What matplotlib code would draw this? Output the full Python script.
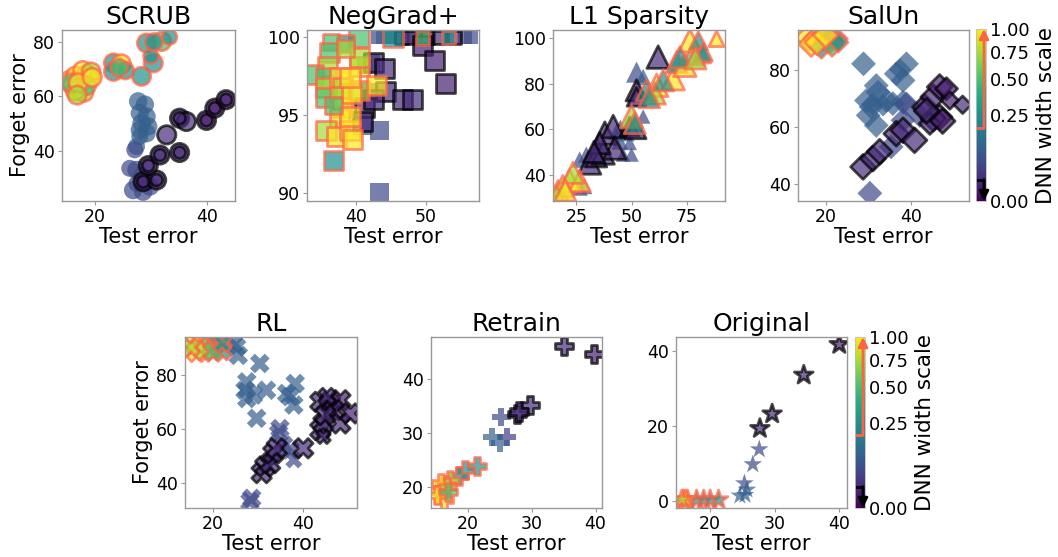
import numpy as np
import matplotlib
matplotlib.use("Agg")
import matplotlib.pyplot as plt
from matplotlib import colors as mcolors
from matplotlib.cm import ScalarMappable

# ---------------- data: (test error, forget error, DNN width scale, marker size) ----------------
Y, YG, G, T = 1.0, 0.75, 0.5, 0.25
B1, B2, B3 = 0.09, 0.05, 0.035
P1, P2 = 0.0156, 0.0078

scrub_test = [15.5, 16.5, 17.5, 18.5, 19.0, 16.0, 17.0, 18.0, 16.5, 17.8, 19.3, 15.7, 18.5, 17.0, 16.8, 19.5,
              23.3, 24.7, 23.3, 25.4, 24.3, 28.3, 29.2, 30.4, 30.0, 31.9, 33.3, 30.5,
              27.7, 28.9, 28.0, 29.2, 28.3, 29.5, 28.0, 29.2, 28.0, 27.4, 27.1, 27.4, 26.2, 28.3, 26.8, 28.6, 29.8, 27.5,
              28.6, 31.0, 29.5, 31.6, 32.8, 35.1, 35.1, 36.3, 39.9, 41.4, 43.4,
              28.6, 31.0, 29.5, 31.6, 35.1, 35.1, 39.9, 41.4, 43.4]
scrub_forget = [66.0, 67.5, 66.0, 68.0, 66.5, 64.0, 63.0, 61.5, 62.0, 69.5, 69.0, 65.0, 64.0, 65.0, 60.5, 67.0,
                72.3, 72.0, 69.2, 69.5, 70.5, 67.4, 79.6, 72.3, 74.8, 80.2, 81.8, 80.0,
                58.2, 57.0, 53.9, 52.6, 50.2, 49.0, 47.7, 46.5, 45.3, 41.6, 40.4, 33.0, 33.6, 30.6, 25.6, 25.0, 26.9, 28.0,
                28.7, 29.3, 34.6, 38.5, 45.9, 39.4, 52.0, 50.8, 51.2, 55.7, 58.8,
                28.7, 29.3, 34.6, 38.5, 39.4, 52.0, 51.2, 55.7, 58.8]
scrub_width = [Y, Y, Y, Y, Y, Y, YG, YG, Y, Y, YG, G, G, Y, YG, Y,
               T, Y, T, T, G, T, T, T, T, G, T, T,
               B1, B1, B1, B1, B1, B1, B1, B1, B1, B1, B2, B2, B2, B2, B2, B2, B2, B2,
               P1, P1, P1, P1, P1, P1, P1, P1, P2, P2, P2,
               P1, P1, P1, P1, P1, P1, P2, P2, P2]
scrub_size = [140] * 16 + [140, 140, 140, 120, 120, 140, 140, 140, 90, 140, 90, 120] + \
             [140] * 8 + [120, 120, 120, 140, 120, 140, 140, 140, 140, 120] + [140] * 11 + [60] * 9

neg_test = [43.2, 43.9, 44.9, 45.3, 45.8, 46.5, 47.6, 48.6, 49.5, 50.2, 51.9, 53.2, 54.0, 55.5, 56.4, 49.5,
            40.5, 38.5, 36.5, 36.3, 36.0, 34.0, 35.8, 35.8, 35.8, 37.7, 38.2, 37.7, 38.2, 37.7, 35.8, 37.3, 39.2, 39.6,
            39.2, 40.6, 40.6, 39.4, 42.9, 40.6, 36.8, 38.6, 39.2, 36.8,
            42.3, 41.3, 41.0, 43.4, 43.4, 42.0,
            42.5, 44.1, 41.3, 41.0, 44.3, 46.7, 48.1, 49.5, 51.2, 52.8, 42.5]
neg_forget = [100.0, 100.0, 100.0, 100.0, 100.0, 100.0, 100.0, 100.0, 100.0, 100.0, 100.0, 100.0, 100.0, 100.0, 100.0, 99.95,
              100.0, 99.6, 99.7, 99.0, 98.1, 97.6, 97.4, 96.8, 96.1, 97.4, 96.8, 96.2, 95.5, 94.8, 94.0, 93.6, 94.0, 93.4,
              94.9, 98.1, 96.6, 96.4, 96.9, 98.7, 92.1, 99.3, 97.4, 95.6,
              98.4, 98.1, 94.3, 94.0, 90.0, 96.5,
              98.4, 98.0, 95.5, 94.6, 96.5, 96.0, 96.0, 99.5, 98.5, 97.0, 96.0]
neg_width = [B2, B1, B1, T, B1, P1, P1, B2, P1, P1, P1, T, P1, B2, B2, G,
             G, T, G, G, YG, G, G, YG, G, Y, YG, YG, Y, Y, YG, Y, Y, Y,
             Y, Y, YG, Y, Y, YG, T, YG, Y, G,
             B1, B1, B2, B2, B2, B1,
             P1, P1, P1, P1, P1, P1, P1, P2, P2, P2, P1]
neg_size = [70, 70, 70, 150, 70, 70, 70, 70, 70, 70, 70, 70, 70, 70, 70, 70,
            150, 110, 110, 140, 140, 140, 140, 140, 140, 140, 140, 140, 140, 140, 140, 140, 140, 140,
            140, 140, 140, 140, 140, 140, 140, 110, 140, 110,
            110, 90, 140, 140, 140, 110,
            140, 140, 140, 140, 140, 140, 140, 140, 140, 140, 140]

l1_test = [16.7, 22.0, 26.5, 18.9, 23.5, 15.9, 20.0, 50.0, 51.5, 56.8, 61.4, 60.6, 68.9, 64.4, 70.5, 74.2, 78.0,
           76.5, 80.3, 81.8, 72.0, 88.6, 82.6, 58.0, 79.0,
           29.5, 26.5, 34.8, 43.2, 44.7, 46.2, 50.0, 49.2, 55.3, 52.3, 55.3, 47.7, 26.5, 28.5, 45.0,
           31.0, 34.0, 37.1, 37.9, 41.7, 42.4, 35.6, 49.2, 51.8, 52.3, 52.3, 62.1, 33.0]
l1_forget = [32.8, 37.2, 37.2, 35.0, 40.8, 30.6, 33.0, 65.5, 62.6, 77.0, 79.2, 75.6, 82.1, 81.4, 89.4, 88.0, 93.0,
             98.8, 98.8, 93.0, 91.6, 99.6, 93.8, 74.0, 91.0,
             48.8, 46.6, 52.4, 58.9, 54.6, 48.8, 48.8, 53.9, 65.5, 85.0, 82.9, 58.2, 34.3, 35.0, 60.0,
             45.1, 48.0, 49.5, 58.2, 61.1, 51.7, 53.8, 61.1, 60.4, 77.0, 74.2, 91.6, 50.0]
l1_width = [Y, Y, Y, YG, YG, YG, Y, YG, T, T, Y, YG, Y, T, T, Y, G,
            Y, T, T, T, Y, T, T, YG,
            B2, B2, B2, B1, B2, B2, B2, B2, B2, B2, B1, B1, B2, B2, B1,
            P1, P1, P1, P1, P1, P1, P1, P2, P2, P1, P2, P1, P1]
l1_size = [150, 170, 150, 150, 150, 150, 150, 170, 150, 150, 170, 150, 170, 150, 150, 170, 170,
           170, 110, 110, 150, 80, 110, 150, 150,
           90, 90, 90, 90, 90, 70, 70, 70, 70, 150, 90, 90, 90, 90, 120,
           170, 150, 170, 170, 170, 170, 150, 120, 150, 150, 120, 170, 150]

sal_test = [15.8, 17.8, 19.4, 20.9, 22.5, 16.6, 19.0, 21.5, 18.0, 23.0, 20.0,
            28.9, 31.9, 32.3, 29.6, 30.7, 30.0, 31.9, 34.3, 35.8, 38.2, 36.6, 39.0, 38.2, 39.0, 38.2, 30.4,
            42.1, 35.4, 33.5, 37.5, 31.0,
            28.8, 31.1, 32.7, 36.6, 38.2, 40.9, 43.3, 45.3, 46.8, 48.4, 46.8, 45.3, 44.5, 49.2, 52.2, 43.7, 47.5]
sal_forget = [91.2, 90.7, 91.2, 90.1, 90.7, 88.9, 87.8, 88.5, 89.5, 89.5, 92.0,
              82.0, 74.4, 72.1, 69.2, 66.9, 64.0, 60.5, 69.2, 68.1, 68.6, 78.5, 82.0, 76.2, 68.0, 62.3, 36.8,
              64.0, 53.0, 67.5, 80.0, 68.0,
              46.0, 48.9, 51.3, 57.6, 58.8, 55.3, 66.9, 70.4, 73.9, 73.3, 63.4, 62.9, 61.1, 69.2, 67.7, 65.6, 62.0]
sal_width = [Y, Y, YG, T, T, Y, T, G, Y, T, Y,
             B1, B1, B1, B1, B1, B1, B1, B1, B1, B1, B1, B1, B1, B2, B2, B2,
             B2, B2, B1, B1, B1,
             P1, P1, P1, P1, P1, P1, P2, P1, P2, P2, P2, P1, P1, P2, P1, P1, P2]
sal_size = [200, 200, 200, 200, 160, 200, 160, 160, 200, 120, 200] + [200] * 16 + [200, 200, 160, 160, 160] + \
           [200, 200, 200, 200, 200, 200, 200, 200, 200, 160, 200, 200, 150, 100, 100, 200, 200]

rl_test = [15.9, 17.4, 19.3, 20.7, 21.9, 16.3, 18.0, 20.0, 22.0, 15.0,
           25.2, 25.6, 24.5, 30.4, 27.5, 27.1, 28.96, 27.5, 31.9, 29.7, 36.4, 38.3, 37.2, 38.0, 34.9, 34.6, 35.7,
           37.2, 38.0, 28.6, 28.2,
           30.8, 31.6, 32.7, 33.4, 34.2, 40.1, 43.9, 44.6, 43.9, 46.1, 48.4, 46.9, 48.4, 50.6, 45.4, 44.6, 45.0]
rl_forget = [91.4, 90.8, 90.2, 92.1, 89.0, 88.4, 89.0, 88.5, 91.5, 90.0,
             90.2, 87.1, 91.4, 84.1, 77.3, 74.2, 72.4, 71.1, 74.2, 63.8, 73.0, 76.7, 71.8, 68.7, 60.0, 58.2, 53.9,
             52.1, 48.4, 34.2, 33.0,
             43.5, 46.0, 47.2, 50.8, 52.7, 52.7, 59.5, 61.9, 69.9, 69.3, 70.5, 66.8, 61.9, 65.6, 71.8, 57.0, 65.0]
rl_width = [Y, Y, G, T, T, Y, YG, G, T, YG,
            B1, B1, B1, B1, B1, B1, B1, B1, B1, B1, B1, B1, B1, B1, B2, B2, B2,
            B2, B2, B2, B2,
            P1, P1, P1, P1, P1, P1, P1, P1, P1, P2, P2, P2, P1, P2, P1, P1, P1]
rl_size = [200] * 8 + [160, 160] + [200] * 18 + [150, 200, 200] + [200] * 14 + [150, 100, 200]

re_test = [35.0, 39.8, 29.7, 27.7, 28.0, 26.1, 25.3, 23.8, 25.1, 21.5, 19.6, 18.6, 17.3, 16.5, 15.5, 15.8,
           16.8, 16.3, 15.2, 17.0]
re_forget = [46.3, 44.8, 35.2, 33.5, 34.0, 29.2, 33.0, 29.2, 28.1, 23.8, 23.1, 21.9, 21.2, 20.3, 19.1, 20.6,
             20.0, 17.5, 18.5, 19.0]
re_width = [P1, P2, P1, P1, P1, B3, B2, B1, B1, T, T, T, YG, Y, Y, Y, YG, Y, Y, G]
re_size = [170] * 20

og_test = [40.0, 34.5, 29.6, 27.7, 27.6, 26.6, 25.3, 25.7, 24.6, 25.4, 15.9, 16.5, 17.9, 19.0, 20.0, 21.3,
           16.2, 15.6]
og_forget = [41.8, 33.6, 23.2, 19.3, 13.7, 9.7, 4.6, 2.9, 1.3, 1.5, 0.2, 0.2, 0.2, 0.2, 0.2, 0.2, 0.2, 0.2]
og_width = [P2, P1, P1, P1, B2, B2, B2, B1, B1, B1, Y, YG, T, T, T, T, Y, YG]
og_size = [200] * 18

# ---------------- styling ----------------
cmap = plt.get_cmap("viridis")
norm = mcolors.PowerNorm(gamma=0.5, vmin=0.0, vmax=1.0)
HIGH_CUT, LOW_CUT = 0.18, 0.0156
EDGE_HIGH, EDGE_LOW = "tomato", "black"
SPINE = "0.6"

W, H = 1058, 557
fig = plt.figure(figsize=(W / 100, H / 100), dpi=100)


def px_axes(x0, y0, x1, y1):
    return fig.add_axes([x0 / W, (H - y1) / H, (x1 - x0) / W, (y1 - y0) / H])


def draw_panel(ax, title, xs, ys, ws, ss, marker, xlim, ylim, xticks, yticks,
               ylabel=False, scale=1.0):
    n = min(len(xs), len(ys), len(ws), len(ss))
    xs, ys, ws, ss = (np.asarray(a[:n], dtype=float) for a in (xs, ys, ws, ss))
    groups = [(ws > LOW_CUT) & (ws < HIGH_CUT), ws <= LOW_CUT, ws >= HIGH_CUT]
    edges = ["none", EDGE_LOW, EDGE_HIGH]
    for mask, ec in zip(groups, edges):
        if not mask.any():
            continue
        ax.scatter(xs[mask], ys[mask], c=ws[mask], cmap=cmap, norm=norm, s=ss[mask] * scale,
                   marker=marker, alpha=0.7, edgecolors=ec, linewidths=2.0)
    ax.set_xlim(*xlim)
    ax.set_ylim(*ylim)
    ax.set_xticks(xticks)
    ax.set_yticks(yticks)
    ax.set_title(title, fontsize=18, pad=4)
    ax.set_xlabel("Test error", fontsize=15, labelpad=1)
    if ylabel:
        ax.set_ylabel("Forget error", fontsize=15, labelpad=2)
    ax.tick_params(labelsize=12.5, length=3, width=0.8, color=SPINE, pad=2)
    for sp in ax.spines.values():
        sp.set_color(SPINE)
        sp.set_linewidth(1.0)


def draw_colorbar(cax):
    sm = ScalarMappable(norm=norm, cmap=cmap)
    cb = fig.colorbar(sm, cax=cax, ticks=[0, 0.25, 0.5, 0.75, 1.0])
    cb.ax.yaxis.set_major_formatter(matplotlib.ticker.StrMethodFormatter("{x:.2f}"))
    cb.ax.tick_params(labelsize=13, length=0, pad=3)
    cb.outline.set_edgecolor("0.75")
    cb.outline.set_linewidth(0.6)
    cb.set_label("DNN width scale", fontsize=15.5, labelpad=4)
    hi = np.sqrt(HIGH_CUT)
    lo = np.sqrt(LOW_CUT)
    xv = 0.8
    cax.plot([0.0, xv], [hi, hi], color=EDGE_HIGH, lw=2, transform=cax.transAxes, clip_on=False,
             solid_capstyle="butt")
    cax.annotate("", xy=(xv, 1.0), xytext=(xv, hi), xycoords="axes fraction",
                 arrowprops=dict(arrowstyle="-|>", color=EDGE_HIGH, lw=2, mutation_scale=14,
                                 shrinkA=0, shrinkB=0))
    cax.plot([0.0, xv], [lo, lo], color=EDGE_LOW, lw=2, transform=cax.transAxes, clip_on=False,
             solid_capstyle="butt")
    cax.annotate("", xy=(xv, 0.0), xytext=(xv, lo), xycoords="axes fraction",
                 arrowprops=dict(arrowstyle="-|>", color=EDGE_LOW, lw=2, mutation_scale=14,
                                 shrinkA=0, shrinkB=0))


# top row
ax = px_axes(62, 30, 235, 201)
draw_panel(ax, "SCRUB", scrub_test, scrub_forget, scrub_width, scrub_size, "o",
           (14.1, 45.0), (21.6, 84.4), [20, 40], [40, 60, 80], ylabel=True, scale=1.25)
ax = px_axes(307, 30, 479, 201)
draw_panel(ax, "NegGrad+", neg_test, neg_forget, neg_width, neg_size, "s",
           (33.1, 57.5), (89.47, 100.47), [40, 50], [90, 95, 100], scale=1.35)
ax = px_axes(553, 30, 725, 201)
draw_panel(ax, "L1 Sparsity", l1_test, l1_forget, l1_width, l1_size, "^",
           (14.4, 92.4), (28.4, 103.5), [25, 50, 75], [40, 60, 80, 100], scale=1.55)
ax = px_axes(798, 30, 969, 201)
draw_panel(ax, "SalUn", sal_test, sal_forget, sal_width, sal_size, "D",
           (13.5, 53.7), (34.1, 93.8), [20, 40], [40, 60, 80], scale=0.8)
draw_colorbar(px_axes(976, 29, 986, 201))

# bottom row
ax = px_axes(185, 337, 357, 508)
draw_panel(ax, "RL", rl_test, rl_forget, rl_width, rl_size, "X",
           (13.7, 52.1), (30.6, 93.9), [20, 40], [40, 60, 80], ylabel=True)
ax = px_axes(431, 337, 602, 508)
draw_panel(ax, "Retrain", re_test, re_forget, re_width, re_size, "P",
           (14.3, 41.0), (16.0, 47.9), [20, 30, 40], [20, 30, 40])
ax = px_axes(676, 337, 847, 508)
draw_panel(ax, "Original", og_test, og_forget, og_width, og_size, "*",
           (14.7, 41.2), (-2.0, 43.8), [20, 30, 40], [0, 20, 40])
draw_colorbar(px_axes(855, 337, 865, 508))

fig.savefig("out.png", dpi=100)
